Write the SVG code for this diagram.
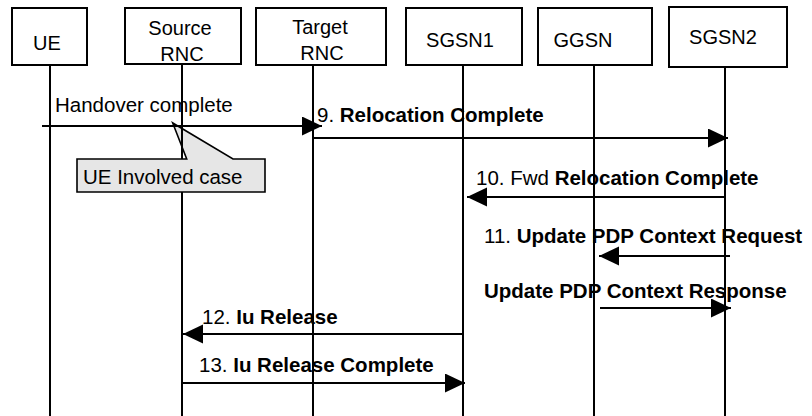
<svg xmlns="http://www.w3.org/2000/svg" width="812" height="416" viewBox="0 0 812 416">
<style>
.box{fill:#fff;stroke:#000;stroke-width:2}
.life{stroke:#000;stroke-width:2;fill:none}
.msg{stroke:#000;stroke-width:1.8;fill:none;marker-end:url(#ah)}
.nt{font-family:"Liberation Sans",Arial,sans-serif;font-size:20px;fill:#000;text-anchor:middle}
.ml{font-family:"Liberation Sans",Arial,sans-serif;font-size:20.5px;fill:#000}
.b{font-weight:bold}
.callout{fill:#e6e6e6;stroke:#000;stroke-width:1.6}
</style>
<defs>
<marker id="ah" markerUnits="userSpaceOnUse" markerWidth="20" markerHeight="20" refX="20" refY="9.5" orient="auto">
<path d="M0,0 L20,9.5 L0,19 Z" fill="#000"/>
</marker>
</defs>
<rect width="812" height="416" fill="#fff"/>
<g id="callout">
<path class="callout" d="M77,159 H186.7 L172.7,123 L233,159 H265 V192 H77 Z"/>
<text class="ml" x="83" y="184">UE Involved case</text>
</g>
<g id="ue">
<rect class="box" x="12" y="8" width="75" height="57"/>
<text class="nt" x="47" y="50">UE</text>
<line class="life" x1="50" y1="65" x2="50" y2="416"/>
</g>
<g id="source-rnc">
<rect class="box" x="125" y="8" width="116" height="56"/>
<text class="nt" x="180" y="35">Source</text>
<text class="nt" x="182" y="61">RNC</text>
<line class="life" x1="182" y1="64" x2="182" y2="159"/>
<line class="life" x1="182" y1="192" x2="182" y2="416"/>
</g>
<g id="target-rnc">
<rect class="box" x="256" y="8" width="130" height="57"/>
<text class="nt" x="320" y="34">Target</text>
<text class="nt" x="322" y="60">RNC</text>
<line class="life" x1="313" y1="65" x2="313" y2="416"/>
</g>
<g id="sgsn1">
<rect class="box" x="406" y="8" width="116" height="57"/>
<text class="nt" x="460" y="47">SGSN1</text>
<line class="life" x1="463" y1="65" x2="463" y2="416"/>
</g>
<g id="ggsn">
<rect class="box" x="538" y="8" width="114" height="57"/>
<text class="nt" x="583" y="47">GGSN</text>
<line class="life" x1="594" y1="65" x2="594" y2="416"/>
</g>
<g id="sgsn2">
<rect class="box" x="669" y="7" width="118" height="60"/>
<text class="nt" x="723" y="44">SGSN2</text>
<line class="life" x1="725" y1="67" x2="725" y2="416"/>
</g>
<g id="connectors">
<line class="msg" x1="42" y1="126" x2="322" y2="126"/>
<line class="msg" x1="313" y1="138" x2="728" y2="138"/>
<line class="msg" x1="725" y1="197" x2="467" y2="197"/>
<line class="msg" x1="730" y1="256" x2="599" y2="256"/>
<line class="msg" x1="600" y1="308" x2="731" y2="308"/>
<line class="msg" x1="464" y1="334" x2="183" y2="334"/>
<line class="msg" x1="181" y1="383" x2="465" y2="383"/>
</g>
<g id="labels">
<text class="ml" x="55" y="112">Handover complete</text>
<text class="ml" x="317" y="122">9. <tspan class="b">Relocation Complete</tspan></text>
<text class="ml" x="476" y="185">10. Fwd <tspan class="b">Relocation Complete</tspan></text>
<text class="ml" x="484" y="243">11. <tspan class="b">Update PDP Context Request</tspan></text>
<text class="ml b" x="484" y="298">Update PDP Context Response</text>
<text class="ml" x="202" y="324">12. <tspan class="b">Iu Release</tspan></text>
<text class="ml" x="199" y="372">13. <tspan class="b">Iu Release Complete</tspan></text>
</g>
</svg>
